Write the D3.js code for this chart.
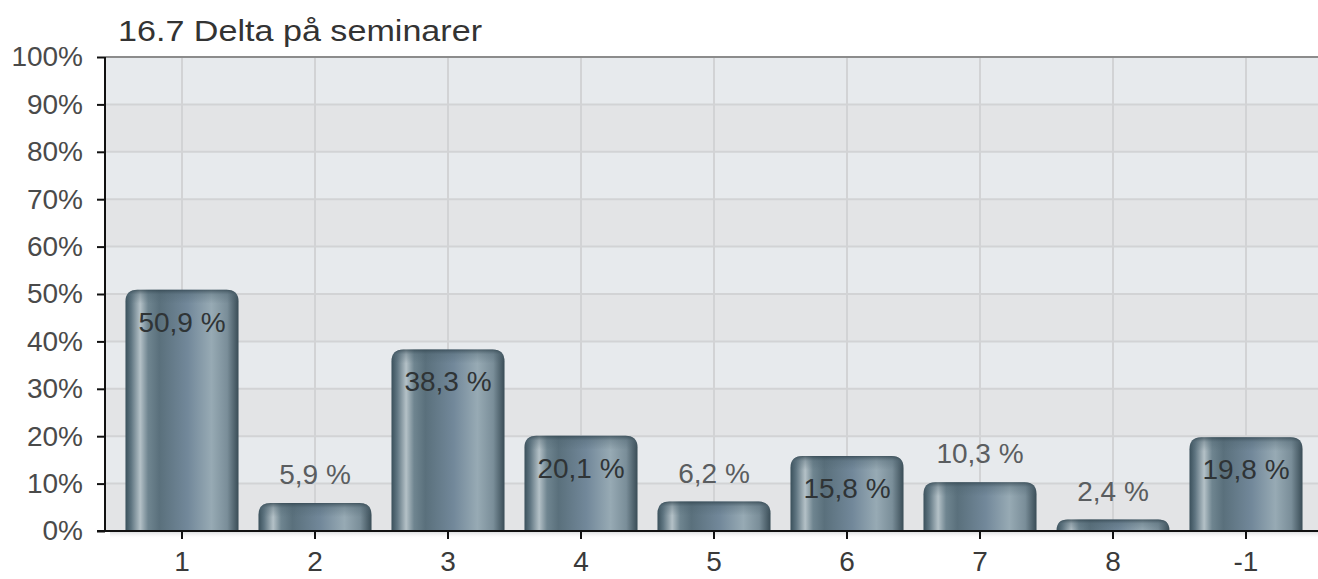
<!DOCTYPE html>
<html>
<head>
<meta charset="utf-8">
<script src="https://cdn.jsdelivr.net/npm/d3@7"></script>
<style>
  html, body { margin: 0; padding: 0; background: #ffffff; }
  svg { display: block; }
  text { font-family: "Liberation Sans", Arial, Helvetica, sans-serif; }
</style>
</head>
<body>
<svg id="chart" width="1318" height="579"></svg>
<script>
// Survey question 16.7 — share of respondents per answer option
const title = "16.7 Delta på seminarer";
const categories = ["1", "2", "3", "4", "5", "6", "7", "8", "-1"];
const values = [50.9, 5.9, 38.3, 20.1, 6.2, 15.8, 10.3, 2.4, 19.8];
const valueLabels = ["50,9 %", "5,9 %", "38,3 %", "20,1 %", "6,2 %", "15,8 %", "10,3 %", "2,4 %", "19,8 %"];
const yTicks = [0, 10, 20, 30, 40, 50, 60, 70, 80, 90, 100];

const W = 1318, H = 579;
const plot = { left: 105, right: 1318, top: 57, bottom: 531 };

const svg = d3.select("#chart");

const x = d3.scaleBand()
  .domain(categories)
  .range([115.5, 1312.5])
  .paddingInner(0.15)
  .paddingOuter(0.075);

const y = d3.scaleLinear()
  .domain([0, 100])
  .range([plot.bottom, plot.top]);

// Gradients for the cylindrical bars
const defs = svg.append("defs");
const barGrad = defs.append("linearGradient")
  .attr("id", "barGrad").attr("x1", "0%").attr("x2", "100%").attr("y1", "0%").attr("y2", "0%");
[
  [0, "#3a505b"], [0.05, "#5f7581"], [0.13, "#b4c1c7"], [0.2, "#6f8590"],
  [0.3, "#5a707c"], [0.55, "#72889a"], [0.76, "#97aab4"], [0.9, "#7a8e99"], [1, "#394c56"]
].forEach(([o, c]) => barGrad.append("stop").attr("offset", o).attr("stop-color", c));

const capGrad = defs.append("linearGradient")
  .attr("id", "capGrad").attr("x1", "0%").attr("x2", "0%").attr("y1", "0%").attr("y2", "100%");
capGrad.append("stop").attr("offset", 0).attr("stop-color", "#2e414b").attr("stop-opacity", 0.75);
capGrad.append("stop").attr("offset", 0.35).attr("stop-color", "#4e6470").attr("stop-opacity", 0.35);
capGrad.append("stop").attr("offset", 1).attr("stop-color", "#4e6470").attr("stop-opacity", 0);

const shadowGrad = defs.append("linearGradient")
  .attr("id", "shadowGrad").attr("x1", "0%").attr("x2", "0%").attr("y1", "0%").attr("y2", "100%");
shadowGrad.append("stop").attr("offset", 0).attr("stop-color", "#d4d6d8");
shadowGrad.append("stop").attr("offset", 1).attr("stop-color", "#ffffff").attr("stop-opacity", 0);

// Plot background with alternating horizontal bands
const bands = d3.range(0, 100, 10);
svg.append("g").selectAll("rect")
  .data(bands)
  .join("rect")
  .attr("x", plot.left)
  .attr("width", plot.right - plot.left)
  .attr("y", d => y(d + 10))
  .attr("height", d => y(d) - y(d + 10))
  .attr("fill", d => (d / 10) % 2 === 0 ? "#e3e4e6" : "#e7eaed");

// Grid lines
const grid = svg.append("g").attr("stroke", "#d2d3d5").attr("stroke-width", 2);
grid.selectAll("line.h")
  .data(yTicks.filter(t => t > 0 && t < 100))
  .join("line")
  .attr("x1", plot.left).attr("x2", plot.right)
  .attr("y1", d => y(d)).attr("y2", d => y(d));
grid.selectAll("line.v")
  .data(categories)
  .join("line")
  .attr("x1", d => x(d) + x.bandwidth() / 2)
  .attr("x2", d => x(d) + x.bandwidth() / 2)
  .attr("y1", plot.top).attr("y2", plot.bottom);

// Top border of the plot area
svg.append("line")
  .attr("x1", plot.left).attr("x2", plot.right)
  .attr("y1", plot.top).attr("y2", plot.top)
  .attr("stroke", "#8c8c8c").attr("stroke-width", 2);

// Soft shadow under the baseline
svg.append("rect")
  .attr("x", 110).attr("y", plot.bottom).attr("width", plot.right - 110).attr("height", 8)
  .attr("fill", "url(#shadowGrad)");

// Bars with rounded tops
function barPath(x0, w, yTop, yBase) {
  const h = yBase - yTop;
  const r = Math.min(12, h, w / 2);
  return `M${x0},${yBase} L${x0},${yTop + r} Q${x0},${yTop} ${x0 + r},${yTop} ` +
         `L${x0 + w - r},${yTop} Q${x0 + w},${yTop} ${x0 + w},${yTop + r} L${x0 + w},${yBase} Z`;
}

const barData = categories.map((c, i) => ({ c, v: values[i], label: valueLabels[i] }));

const barsG = svg.append("g");
barsG.selectAll("path.bar")
  .data(barData)
  .join("path")
  .attr("class", "bar")
  .attr("d", d => barPath(x(d.c), x.bandwidth(), y(d.v), y(0)))
  .attr("fill", "url(#barGrad)");

barsG.selectAll("path.cap")
  .data(barData)
  .join("path")
  .attr("class", "cap")
  .attr("d", d => {
    const top = y(d.v);
    const capH = Math.min(14, y(0) - top);
    return barPath(x(d.c), x.bandwidth(), top, top + capH);
  })
  .attr("fill", "url(#capGrad)");

// Value labels: inside tall bars, above short ones
svg.append("g").selectAll("text")
  .data(barData)
  .join("text")
  .attr("x", d => x(d.c) + x.bandwidth() / 2)
  .attr("y", d => d.v >= 15 ? y(d.v) + 42 : y(d.v) - 19)
  .attr("text-anchor", "middle")
  .attr("font-size", 28)
  .attr("fill", d => d.v >= 15 ? "#2f3436" : "#5a5d60")
  .text(d => d.label);

// Y axis
const yAxis = svg.append("g")
  .attr("transform", `translate(${plot.left},0)`)
  .call(d3.axisLeft(y).tickValues(yTicks).tickFormat(d => d + "%").tickSize(8).tickPadding(14));
yAxis.select(".domain").attr("stroke", "#111").attr("stroke-width", 2)
  .attr("d", `M0,${plot.top}V${plot.bottom}`);
yAxis.selectAll(".tick line").attr("stroke", "#111").attr("stroke-width", 2);
yAxis.selectAll(".tick text")
  .attr("font-size", 28).attr("fill", "#4a4a4a")
  .attr("font-family", "'Liberation Sans', Arial, sans-serif");

// X axis
const xAxis = svg.append("g")
  .attr("transform", `translate(0,${plot.bottom})`)
  .call(d3.axisBottom(x).tickSize(8).tickPadding(12));
xAxis.select(".domain").attr("stroke", "#111").attr("stroke-width", 2)
  .attr("d", `M${plot.left - 8},0H${plot.right}`);
xAxis.selectAll(".tick line").attr("stroke", "#111").attr("stroke-width", 2);
xAxis.selectAll(".tick text")
  .attr("font-size", 28).attr("fill", "#3a3a3a")
  .attr("font-family", "'Liberation Sans', Arial, sans-serif");

// Title
svg.append("text")
  .attr("x", 118).attr("y", 41)
  .attr("font-size", 29)
  .attr("fill", "#333")
  .attr("textLength", 364)
  .attr("lengthAdjust", "spacingAndGlyphs")
  .text(title);
</script>
</body>
</html>
